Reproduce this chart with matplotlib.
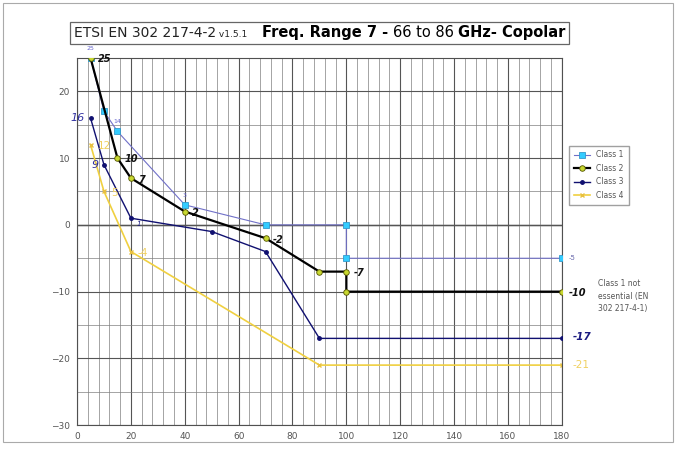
import matplotlib.pyplot as plt
from matplotlib.offsetbox import TextArea, HPacker, AnchoredOffsetbox
from matplotlib.patches import Rectangle

# mask points (offset angle in degrees, relative gain in dB)
c1_x = [5, 10, 15, 40, 70, 100, 100, 180]
c1_y = [25, 17, 14, 3, 0, 0, -5, -5]
c2_x = [5, 15, 20, 40, 70, 90, 100, 100, 180]
c2_y = [25, 10, 7, 2, -2, -7, -7, -10, -10]
c3_x = [5, 10, 20, 50, 70, 90, 180]
c3_y = [16, 9, 1, -1, -4, -17, -17]
c4_x = [5, 10, 20, 90, 180]
c4_y = [12, 5, -4, -21, -21]

# labelled points: (x, y, text)
c1_labels = [(5, 25, "25"), (15, 14, "14"), (40, 3, "3"), (180, -5, "-5")]
c2_labels = [(5, 25, "25"), (15, 10, "10"), (20, 7, "7"), (40, 2, "2"),
             (70, -2, "-2"), (100, -7, "-7"), (180, -10, "-10")]
c3_labels = [(5, 16, "16"), (10, 9, "9"), (20, 1, "1"), (180, -17, "-17")]
c4_labels = [(5, 12, "12"), (10, 5, "5"), (20, -4, "-4"), (180, -21, "-21")]

fig = plt.figure(figsize=(6.76, 4.49), dpi=100)
ax = fig.add_axes([0.114, 0.053, 0.717, 0.818])

ax.set_xlim(0, 180)
ax.set_ylim(-30, 25)
ax.set_xticks(range(0, 181, 20))
ax.set_yticks(range(-30, 21, 10))
ax.set_xticks(range(0, 181, 4), minor=True)
ax.set_yticks(range(-30, 26, 5), minor=True)
ax.grid(which="major", color="#555555", lw=0.8)
ax.grid(which="minor", color="#808080", lw=0.5)
ax.tick_params(which="both", length=0, labelsize=6.5, labelcolor="#555555", pad=5)
for s in ax.spines.values():
    s.set_color("#505050")
ax.axhline(0, color="#303030", lw=1.0, zorder=1)

ax.plot(c1_x, c1_y, color="#7070c8", lw=0.8, marker="s", ms=4,
        mfc="#33ccff", mec="#3399cc", mew=0.6, label="Class 1", zorder=3)
ax.plot(c2_x, c2_y, color="black", lw=1.6, marker="o", ms=4,
        mfc="#c8d830", mec="#555500", mew=0.6, label="Class 2", zorder=4)
ax.plot(c3_x, c3_y, color="#101070", lw=1.0, marker="o", ms=2.5,
        mfc="#101070", mec="#101070", label="Class 3", zorder=3)
ax.plot(c4_x, c4_y, color="#f0d040", lw=1.2, marker="x", ms=3,
        mec="#e8c040", label="Class 4", zorder=2)

for x, y, t in c1_labels:
    if x == 180:
        ax.annotate(t, (x, y), xytext=(5, 0), textcoords="offset points",
                    fontsize=5, color="#6666aa", va="center")
    else:
        ax.annotate(t, (x, y), xytext=(0, 5), textcoords="offset points",
                    fontsize=4.5, color="#6666cc", ha="center", va="bottom")
for x, y, t in c2_labels:
    ax.annotate(t, (x, y), xytext=(5, -1), textcoords="offset points",
                fontsize=7, color="#111111", weight="bold", style="italic",
                va="center", clip_on=False)
for x, y, t in c3_labels:
    if x == 180:
        ax.annotate(t, (x, y), xytext=(8, 1), textcoords="offset points",
                    fontsize=7.5, color="#1a1a80", weight="bold", style="italic", va="center")
    elif x == 20:
        ax.annotate(t, (x, y), xytext=(4, -4), textcoords="offset points",
                    fontsize=5, color="#1a1a80", style="italic", va="center")
    else:
        ax.annotate(t, (x, y), xytext=(-4, 0), textcoords="offset points",
                    fontsize=8, color="#3030a0", style="italic", ha="right", va="center")
for x, y, t in c4_labels:
    off = (8, 0) if x == 180 else (5, -1)
    ax.annotate(t, (x, y), xytext=off, textcoords="offset points",
                fontsize=7.5, color="#f0d060", va="center")

leg = fig.legend(loc="upper left", bbox_to_anchor=(0.836, 0.684), fontsize=5.5,
                 frameon=True, fancybox=False, edgecolor="#888888",
                 handlelength=2.2, borderpad=0.6, labelspacing=0.6)
for t in leg.get_texts():
    t.set_color("#555555")

fig.text(0.884, 0.378, "Class 1 not\nessential (EN\n302 217-4-1)", fontsize=5.5,
         color="#555555", va="top", linespacing=1.5)

# title box with mixed weights
parts = [
    TextArea("ETSI EN 302 217-4-2", textprops=dict(fontsize=10, color="#222222")),
    TextArea(" v1.5.1     ", textprops=dict(fontsize=6.5, color="#222222")),
    TextArea("Freq. Range 7 - ", textprops=dict(fontsize=10.5, weight="bold")),
    TextArea("66 to 86 ", textprops=dict(fontsize=10.5)),
    TextArea("GHz- Copolar", textprops=dict(fontsize=10.5, weight="bold")),
]
box = HPacker(children=parts, align="baseline", pad=0, sep=0)
title = AnchoredOffsetbox(loc="center left", child=box, pad=0.25, borderpad=0,
                          frameon=True, bbox_to_anchor=(0.104, 0.927),
                          bbox_transform=fig.transFigure)
title.patch.set_edgecolor("#666666")
title.patch.set_linewidth(0.9)
fig.add_artist(title)

fig.patches.append(Rectangle((0.004, 0.015), 0.992, 0.978, transform=fig.transFigure,
                             fill=False, edgecolor="#aaaaaa", lw=0.8))

fig.savefig("out.png", dpi=100)
